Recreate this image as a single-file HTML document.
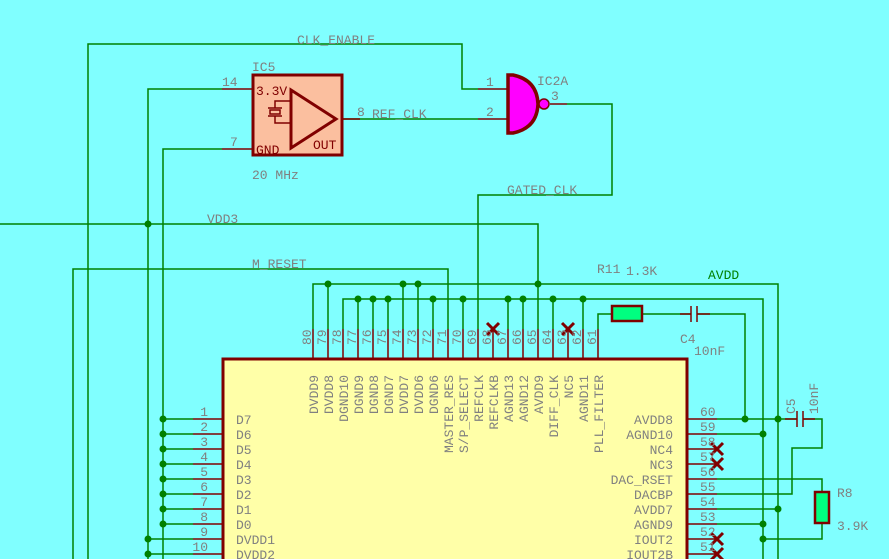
<!DOCTYPE html>
<html><head><meta charset="utf-8"><style>
html,body{margin:0;padding:0;background:#80ffff;}
svg{display:block;font-family:"Liberation Mono",monospace;}
.g{stroke:#008000;stroke-width:1.5;fill:none}
.r{stroke:#800000;stroke-width:1.5;fill:none}
.t{fill:#808080;font-size:13px}
.s{fill:#808080;font-size:13px}
.j{fill:#008000}
.x{stroke:#800000;stroke-width:3}
</style></head><body>
<svg width="889" height="559" viewBox="0 0 889 559" xmlns="http://www.w3.org/2000/svg">
<rect width="889" height="559" fill="#80ffff"/>
<rect x="223" y="359" width="464" height="220" fill="#ffffa8" stroke="#800000" stroke-width="3"/>
<path class="g" d="M88 559V44H462V89H478"/>
<path class="g" d="M148 559V89H222"/>
<path class="g" d="M163 559V149H222"/>
<path class="g" d="M0 224H538V329"/>
<path class="g" d="M73 559V269H448V329"/>
<path class="g" d="M313 329V284H778V559"/>
<path class="g" d="M343 329V299H763V559"/>
<path class="g" d="M328 284V329M403 284V329M418 284V329"/>
<path class="g" d="M358 299V329M373 299V329M388 299V329M433 299V329M463 299V329M508 299V329M523 299V329M553 299V329M583 299V329"/>
<path class="g" d="M478 329V195H612V104H567"/>
<path class="g" d="M343 119H478"/>
<path class="g" d="M598 329V314H612M642 314H691M697 314H745V419"/>
<path class="g" d="M717 419H797M803 419H822V448H792V494H717"/>
<path class="g" d="M717 434H763M717 479H822V492M822 523V539H763M717 509H778M717 524H763"/>
<path class="g" d="M163 419H193M163 434H193M163 449H193M163 464H193M163 479H193M163 494H193M163 509H193M163 524H193M148 539H193M148 554H193"/>
<path class="r" d="M313 329V359M328 329V359M343 329V359M358 329V359M373 329V359M388 329V359M403 329V359M418 329V359M433 329V359M448 329V359M463 329V359M478 329V359M493 329V359M508 329V359M523 329V359M538 329V359M553 329V359M568 329V359M583 329V359M598 329V359"/>
<path class="r" d="M687 419H717M687 434H717M687 449H717M687 464H717M687 479H717M687 494H717M687 509H717M687 524H717M687 539H717M687 554H717"/>
<path class="r" d="M193 419H223M193 434H223M193 449H223M193 464H223M193 479H223M193 494H223M193 509H223M193 524H223M193 539H223M193 554H223"/>
<path class="r" d="M478 89H507M478 119H507M550 104H567M222 89H252M222 149H252M343 119H360"/>
<path class="r" d="M691 306V322M697 306V322M797 411V427M803 411V427" stroke-width="2"/>
<path class="r" d="M680 314H691M697 314H710M785 419H797M803 419H815"/>
<rect x="612" y="306" width="30" height="15" fill="#00ff80" stroke="#800000" stroke-width="2.5"/>
<rect x="815" y="492" width="14" height="31" fill="#00ff80" stroke="#800000" stroke-width="2.5"/>
<g class="j">
<circle cx="148" cy="224" r="3.5"/><circle cx="328" cy="284" r="3.5"/><circle cx="403" cy="284" r="3.5"/><circle cx="418" cy="284" r="3.5"/><circle cx="538" cy="284" r="3.5"/>
<circle cx="358" cy="299" r="3.5"/><circle cx="373" cy="299" r="3.5"/><circle cx="388" cy="299" r="3.5"/><circle cx="433" cy="299" r="3.5"/><circle cx="463" cy="299" r="3.5"/><circle cx="508" cy="299" r="3.5"/><circle cx="523" cy="299" r="3.5"/><circle cx="553" cy="299" r="3.5"/><circle cx="583" cy="299" r="3.5"/>
<circle cx="745" cy="419" r="3.5"/><circle cx="778" cy="419" r="3.5"/><circle cx="763" cy="434" r="3.5"/><circle cx="778" cy="509" r="3.5"/><circle cx="763" cy="524" r="3.5"/><circle cx="763" cy="539" r="3.5"/>
<circle cx="163" cy="419" r="3.5"/><circle cx="163" cy="434" r="3.5"/><circle cx="163" cy="449" r="3.5"/><circle cx="163" cy="464" r="3.5"/><circle cx="163" cy="479" r="3.5"/><circle cx="163" cy="494" r="3.5"/><circle cx="163" cy="509" r="3.5"/><circle cx="163" cy="524" r="3.5"/><circle cx="148" cy="539" r="3.5"/><circle cx="148" cy="554" r="3.5"/>
</g>
<path class="x" d="M487 323l12 12M499 323l-12 12M562 323l12 12M574 323l-12 12M711 443l12 12M723 443l-12 12M711 458l12 12M723 458l-12 12M711 533l12 12M723 533l-12 12M711 548l12 12M723 548l-12 12"/>
<rect x="253" y="75" width="89" height="80" fill="#fbbf9f" stroke="#800000" stroke-width="3"/>
<path d="M291 90L336 119L291 148Z" fill="none" stroke="#800000" stroke-width="3"/>
<path class="r" d="M291 101H275V108M275 116V123H291M268 108H282M268 116H282" stroke-width="2"/>
<rect x="270" y="110" width="10" height="4" fill="none" stroke="#800000" stroke-width="1.5"/>
<text x="256" y="95" fill="#800000" font-size="13">3.3V</text>
<text x="256" y="154" fill="#800000" font-size="13">GND</text>
<text x="313" y="149" fill="#800000" font-size="13">OUT</text>
<text x="252" y="71" class="t">IC5</text>
<text x="252" y="179" class="t">20 MHz</text>
<text x="222" y="86" class="s">14</text>
<text x="230" y="146" class="s">7</text>
<text x="357" y="116" class="s">8</text>
<text x="372" y="118" class="t">REF_CLK</text>
<path d="M508 75H513Q537 80 538 104Q537 128 513 133H508Z" fill="#ff00ff" stroke="#800000" stroke-width="3.5"/>
<circle cx="544" cy="104" r="5" fill="#ff00ff" stroke="#800000" stroke-width="1.5"/>
<text x="537" y="85" class="t">IC2A</text>
<text x="486" y="86" class="s">1</text>
<text x="486" y="116" class="s">2</text>
<text x="551" y="100" class="s">3</text>
<text x="297" y="44" class="t">CLK_ENABLE</text>
<text x="507" y="194" class="t">GATED_CLK</text>
<text x="207" y="223" class="t">VDD3</text>
<text x="252" y="268" class="t">M_RESET</text>
<text x="708" y="279" fill="#008000" font-size="13px">AVDD</text>
<text x="597" y="273" class="t">R11</text>
<text x="626" y="275" class="t">1.3K</text>
<text x="680" y="343" class="t">C4</text>
<text x="694" y="355" class="t">10nF</text>
<text transform="translate(795,414) rotate(-90)" class="t">C5</text>
<text transform="translate(818,414) rotate(-90)" class="t">10nF</text>
<text x="837" y="497" class="t">R8</text>
<text x="837" y="530" class="t">3.9K</text>
<g class="s">
<text transform="translate(311,345) rotate(-90)">80</text><text transform="translate(326,345) rotate(-90)">79</text><text transform="translate(341,345) rotate(-90)">78</text><text transform="translate(356,345) rotate(-90)">77</text><text transform="translate(371,345) rotate(-90)">76</text><text transform="translate(386,345) rotate(-90)">75</text><text transform="translate(401,345) rotate(-90)">74</text><text transform="translate(416,345) rotate(-90)">73</text><text transform="translate(431,345) rotate(-90)">72</text><text transform="translate(446,345) rotate(-90)">71</text><text transform="translate(461,345) rotate(-90)">70</text><text transform="translate(476,345) rotate(-90)">69</text><text transform="translate(491,345) rotate(-90)">68</text><text transform="translate(506,345) rotate(-90)">67</text><text transform="translate(521,345) rotate(-90)">66</text><text transform="translate(536,345) rotate(-90)">65</text><text transform="translate(551,345) rotate(-90)">64</text><text transform="translate(566,345) rotate(-90)">63</text><text transform="translate(581,345) rotate(-90)">62</text><text transform="translate(596,345) rotate(-90)">61</text>
</g>
<g class="t" text-anchor="end">
<text transform="translate(318,375) rotate(-90)">DVDD9</text><text transform="translate(333,375) rotate(-90)">DVDD8</text><text transform="translate(348,375) rotate(-90)">DGND10</text><text transform="translate(363,375) rotate(-90)">DGND9</text><text transform="translate(378,375) rotate(-90)">DGND8</text><text transform="translate(393,375) rotate(-90)">DGND7</text><text transform="translate(408,375) rotate(-90)">DVDD7</text><text transform="translate(423,375) rotate(-90)">DVDD6</text><text transform="translate(438,375) rotate(-90)">DGND6</text><text transform="translate(453,375) rotate(-90)">MASTER_RES</text><text transform="translate(468,375) rotate(-90)">S/P_SELECT</text><text transform="translate(483,375) rotate(-90)">REFCLK</text><text transform="translate(498,375) rotate(-90)">REFCLKB</text><text transform="translate(513,375) rotate(-90)">AGND13</text><text transform="translate(528,375) rotate(-90)">AGND12</text><text transform="translate(543,375) rotate(-90)">AVDD9</text><text transform="translate(558,375) rotate(-90)">DIFF_CLK</text><text transform="translate(573,375) rotate(-90)">NC5</text><text transform="translate(588,375) rotate(-90)">AGND11</text><text transform="translate(603,375) rotate(-90)">PLL_FILTER</text>
</g>
<g class="t" text-anchor="end">
<text x="673" y="424">AVDD8</text><text x="673" y="439">AGND10</text><text x="673" y="454">NC4</text><text x="673" y="469">NC3</text><text x="673" y="484">DAC_RSET</text><text x="673" y="499">DACBP</text><text x="673" y="514">AVDD7</text><text x="673" y="529">AGND9</text><text x="673" y="544">IOUT2</text><text x="673" y="559">IOUT2B</text>
</g>
<g class="s">
<text x="700" y="416">60</text><text x="700" y="431">59</text><text x="700" y="446">58</text><text x="700" y="461">57</text><text x="700" y="476">56</text><text x="700" y="491">55</text><text x="700" y="506">54</text><text x="700" y="521">53</text><text x="700" y="536">52</text><text x="700" y="551">51</text>
</g>
<g class="t">
<text x="236" y="424">D7</text><text x="236" y="439">D6</text><text x="236" y="454">D5</text><text x="236" y="469">D4</text><text x="236" y="484">D3</text><text x="236" y="499">D2</text><text x="236" y="514">D1</text><text x="236" y="529">D0</text><text x="236" y="544">DVDD1</text><text x="236" y="559">DVDD2</text>
</g>
<g class="s" text-anchor="end">
<text x="208" y="416">1</text><text x="208" y="431">2</text><text x="208" y="446">3</text><text x="208" y="461">4</text><text x="208" y="476">5</text><text x="208" y="491">6</text><text x="208" y="506">7</text><text x="208" y="521">8</text><text x="208" y="536">9</text><text x="208" y="551">10</text>
</g>
</svg>
</body></html>
